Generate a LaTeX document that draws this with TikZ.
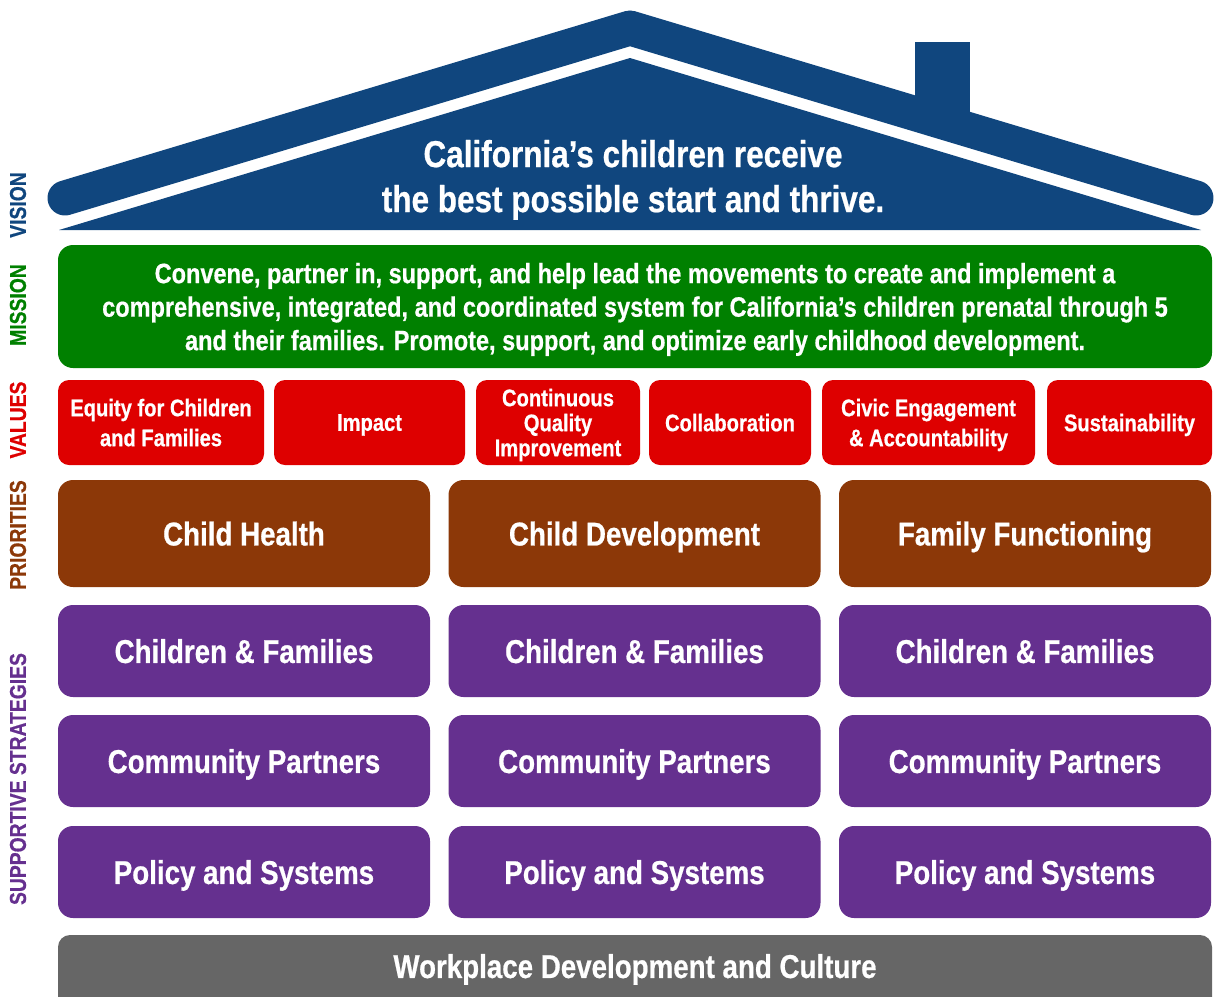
\documentclass[tikz,border=0pt]{standalone}
\usepackage{fontspec}
\setmainfont{Liberation Sans}[FakeStretch=0.84, BoldFeatures={FakeBold=0.6}]
\definecolor{roofblue}{RGB}{16,70,126}
\definecolor{missgreen}{RGB}{0,128,0}
\definecolor{valred}{RGB}{222,0,0}
\definecolor{priobrown}{RGB}{140,56,8}
\definecolor{stratpurple}{RGB}{101,48,143}
\definecolor{workgray}{RGB}{102,102,102}

\begin{document}
\begin{tikzpicture}[x=1pt, y=-1pt,
	box/.style={rounded corners=15pt, inner sep=0pt, text=white, align=center, text depth=0pt,
		font=\bfseries\fontsize{33}{36}\selectfont},
	valbox/.style={box, fill=valred, rounded corners=11pt, minimum height=85pt,
		font=\bfseries\fontsize{24}{30}\selectfont},
	side/.style={rotate=90, font=\bfseries\fontsize{23}{25}\selectfont}]
	\useasboundingbox (0,0) rectangle (1214,996);
	% roof, chimney and gable
	\fill[roofblue] (915,42) rectangle (970,130);
	\draw[roofblue, line width=35pt, line cap=round, line join=round] (65,198) -- (630,28) -- (1196,198);
	\fill[roofblue] (630,58) -- (1201,230) -- (59,230) -- cycle;
	\node[text=white, align=center, text depth=0pt, font=\bfseries\fontsize{37.5}{45}\selectfont] (vision) at (633,176)
		{California’s children receive\\the best possible start and thrive.};
	% mission
	\node[box, fill=missgreen, minimum width=1154pt, minimum height=123pt,
		font=\bfseries\fontsize{28}{33.5}\selectfont] (mission) at (635,306.5)
		{Convene, partner in, support, and help lead the movements to create and implement a\\
		comprehensive, integrated, and coordinated system for California’s children prenatal through 5\\
		and their families. Promote, support, and optimize early childhood development.};
	% values
	\node[valbox, minimum width=206pt] (equity) at (161,422.5) {Equity for Children\\and Families};
	\node[valbox, minimum width=191pt] (impact) at (369.5,422.5) {Impact};
	\node[valbox, minimum width=164pt, font=\bfseries\fontsize{24}{25}\selectfont] (cqi) at (558,422.5)
		{Continuous\\Quality\\Improvement};
	\node[valbox, minimum width=162pt] (collab) at (730,422.5) {Collaboration};
	\node[valbox, minimum width=213pt] (civic) at (928.5,422.5) {Civic Engagement\\\& Accountability};
	\node[valbox, minimum width=165pt] (sustain) at (1129.5,422.5) {Sustainability};
	% priorities and supportive strategies, one column each
	\foreach \col/\x/\prio in {health/244/Child Health, devel/634.5/Child Development, family/1025/Family Functioning}{
		\node[box, fill=priobrown, minimum width=372pt, minimum height=107pt] (prio-\col) at (\x,533.5) {\prio};
		\node[box, fill=stratpurple, minimum width=372pt, minimum height=92pt] (kids-\col) at (\x,651) {Children \& Families};
		\node[box, fill=stratpurple, minimum width=372pt, minimum height=92pt] (comm-\col) at (\x,761) {Community Partners};
		\node[box, fill=stratpurple, minimum width=372pt, minimum height=92pt] (policy-\col) at (\x,872) {Policy and Systems};
	}
	% base
	\fill[workgray, rounded corners=12pt] (58,935) rectangle (1212,1012);
	\node[text=white, text depth=0pt, font=\bfseries\fontsize{33}{36}\selectfont] (work) at (635,966) {Workplace Development and Culture};
	% side labels
	\node[side, text=roofblue] (l-vision) at (18,205) {VISION};
	\node[side, text=missgreen] (l-mission) at (18,305) {MISSION};
	\node[side, text=valred] (l-values) at (18,420) {VALUES};
	\node[side, text=priobrown] (l-prio) at (18,535) {PRIORITIES};
	\node[side, text=stratpurple] (l-strat) at (18,779) {SUPPORTIVE STRATEGIES};
\end{tikzpicture}
\end{document}
